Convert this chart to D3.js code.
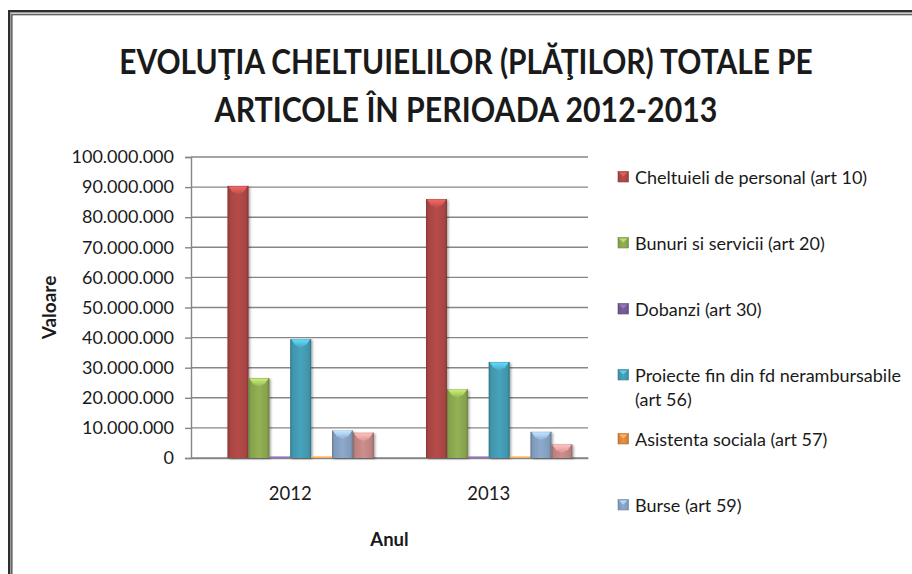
<!DOCTYPE html>
<html>
<head>
<meta charset="utf-8">
<script src="https://cdn.jsdelivr.net/npm/d3@7"></script>
<style>
  html, body { margin: 0; padding: 0; background: #fff; }
  svg { display: block; }
  text { font-family: Lato, "Open Sans", sans-serif; fill: #1a1a1a; }
</style>
</head>
<body>
<svg id="chart" width="912" height="574"></svg>
<script>
// ---------------- DATA ----------------
const titleLines = ["EVOLUŢIA CHELTUIELILOR (PLĂŢILOR) TOTALE PE", "ARTICOLE ÎN PERIOADA 2012-2013"];
const categories = ["2012", "2013"];
const seriesNames = [
  "(serie goală)",
  "Cheltuieli de personal (art 10)",
  "Bunuri si servicii (art 20)",
  "Dobanzi (art 30)",
  "Proiecte fin din fd nerambursabile (art 56)",
  "Asistenta sociala (art 57)",
  "Burse (art 59)",
  "Seria 8"
];
const values2012 = [null, 90400000, 26500000, 0, 39500000, 0, 9100000, 8400000];
const values2013 = [null, 86000000, 22800000, 0, 31900000, 0, 8700000, 4500000];
const seriesColors = ["#4F81BD", "#C0504D", "#9BBB59", "#8064A2", "#4BACC6", "#F79646", "#95B3D7", "#D99694"];
const legendSeries = [1, 2, 3, 4, 5, 6];
const legendLines = [
  ["Cheltuieli de personal (art 10)"],
  ["Bunuri si servicii (art 20)"],
  ["Dobanzi (art 30)"],
  ["Proiecte fin din fd nerambursabile", "(art 56)"],
  ["Asistenta sociala (art 57)"],
  ["Burse (art 59)"]
];
const yTicks = [0, 10000000, 20000000, 30000000, 40000000, 50000000, 60000000, 70000000, 80000000, 90000000, 100000000];
const yTitle = "Valoare";
const xTitle = "Anul";

// ---------------- LAYOUT ----------------
const svg = d3.select("#chart");
const plot = { left: 191, right: 588, top: 157, bottom: 458 };
const valuesByCat = [values2012, values2013];

const x0 = d3.scaleBand().domain(categories).range([plot.left, plot.right]).paddingInner(0).paddingOuter(0);
const x1 = d3.scaleBand().domain(d3.range(seriesNames.length)).range([0, x0.bandwidth()]).paddingInner(0).paddingOuter(0.75);
const y = d3.scaleLinear().domain([0, 100000000]).range([plot.bottom, plot.top]);

const loc = d3.formatLocale({ decimal: ",", thousands: ".", grouping: [3], currency: ["", ""] });
const fmt = loc.format(",d");

// defs
const defs = svg.append("defs");
function shade(c, k) { return d3.color(c).darker(k).formatHex(); }
function light(c, k) { return d3.color(c).brighter(k).formatHex(); }
seriesColors.forEach((c, i) => {
  const g = defs.append("linearGradient").attr("id", "g" + i).attr("x1", "0").attr("x2", "1").attr("y1", "0").attr("y2", "0");
  g.append("stop").attr("offset", "0").attr("stop-color", shade(c, 0.8));
  g.append("stop").attr("offset", "0.12").attr("stop-color", shade(c, 0.4));
  g.append("stop").attr("offset", "0.5").attr("stop-color", shade(c, 0.15));
  g.append("stop").attr("offset", "0.88").attr("stop-color", shade(c, 0.4));
  g.append("stop").attr("offset", "1").attr("stop-color", shade(c, 0.85));
  const gt = defs.append("linearGradient").attr("id", "t" + i).attr("x1", "0").attr("x2", "0").attr("y1", "0").attr("y2", "1");
  gt.append("stop").attr("offset", "0").attr("stop-color", light(c, 0.7));
  gt.append("stop").attr("offset", "1").attr("stop-color", light(c, 0.2));
});
const f = defs.append("filter").attr("id", "shadow").attr("x", "-30%").attr("y", "-10%").attr("width", "160%").attr("height", "130%");
f.append("feDropShadow").attr("dx", 1.5).attr("dy", 1).attr("stdDeviation", 1.3).attr("flood-color", "#000").attr("flood-opacity", 0.35);

// border (double frame)
svg.append("path").attr("d", "M9,574 V11 H912").attr("fill", "none").attr("stroke", "#2e2e2e").attr("stroke-width", 2);
svg.append("path").attr("d", "M10.7,574 V12.7 H912").attr("fill", "none").attr("stroke", "#9a9a9a").attr("stroke-width", 1.4);
svg.append("path").attr("d", "M11.9,574 V14.8 H912").attr("fill", "none").attr("stroke", "#2e2e2e").attr("stroke-width", 1.1);

// title: horizontally condensed to fit the reference widths
const titleY = [74, 122];
const titleLen = [694, 503];
titleLines.forEach((t, i) => {
  const g = svg.append("g");
  const tx = g.append("text").attr("x", 0).attr("y", 0).attr("text-anchor", "middle")
    .attr("font-size", 35).attr("font-weight", "bold").text(t);
  const w = tx.node().getComputedTextLength();
  const sx = titleLen[i] / w;
  g.attr("transform", `translate(466,${titleY[i]}) scale(${sx},1)`);
});

// gridlines
svg.append("g").selectAll("line").data(yTicks).join("line")
  .attr("x1", plot.left).attr("x2", plot.right)
  .attr("y1", d => y(d)).attr("y2", d => y(d))
  .attr("stroke", "#868686").attr("stroke-width", 1.4);

// y axis
const yAxis = d3.axisLeft(y).tickValues(yTicks).tickFormat(fmt).tickSize(6).tickPadding(11);
const gy = svg.append("g").attr("transform", `translate(${plot.left},0)`).call(yAxis);
gy.select(".domain").attr("stroke", "#868686").attr("stroke-width", 1.4);
gy.selectAll(".tick line").attr("stroke", "#868686").attr("stroke-width", 1.4);
gy.selectAll(".tick text").attr("font-size", 18).attr("fill", "#1a1a1a").attr("font-family", "Lato, sans-serif");

// x axis
const xAxis = d3.axisBottom(x0).tickSize(0).tickPadding(29);
const gx = svg.append("g").attr("transform", `translate(0,${plot.bottom})`).call(xAxis);
gx.select(".domain").attr("stroke", "#868686").attr("stroke-width", 1.4);
gx.selectAll(".tick text").attr("font-size", 18.5).attr("fill", "#1a1a1a").attr("font-family", "Lato, sans-serif");

// bars
const gBars = svg.append("g");
categories.forEach((cat, ci) => {
  valuesByCat[ci].forEach((v, si) => {
    if (v === null) return;
    const bx = x0(cat) + x1(si);
    const bw = x1.bandwidth();
    if (v === 0) {
      gBars.append("line").attr("x1", bx).attr("x2", bx + bw).attr("y1", y(0) - 0.8).attr("y2", y(0) - 0.8)
        .attr("stroke", light(seriesColors[si], 0.4)).attr("stroke-width", 1.6);
      return;
    }
    const by = y(v), bh = y(0) - y(v);
    const g = gBars.append("g");
    g.append("rect").attr("x", bx).attr("y", by).attr("width", bw).attr("height", bh)
      .attr("fill", `url(#g${si})`).attr("filter", "url(#shadow)");
    // top bevel
    g.append("path")
      .attr("d", `M${bx + 1},${by + 0.5} L${bx + bw - 1},${by + 0.5} L${bx + bw - 5},${by + 6} L${bx + 5},${by + 6} Z`)
      .attr("fill", `url(#t${si})`);
    g.append("path")
      .attr("d", `M${bx + 5},${by + 6} L${bx + bw - 5},${by + 6} L${bx + bw / 2},${by + 8} Z`)
      .attr("fill", light(seriesColors[si], 0.3)).attr("opacity", 0.7);
    // side edges
    g.append("rect").attr("x", bx).attr("y", by).attr("width", 1).attr("height", bh).attr("fill", shade(seriesColors[si], 1.1)).attr("opacity", 0.6);
    g.append("rect").attr("x", bx + bw - 1).attr("y", by).attr("width", 1).attr("height", bh).attr("fill", shade(seriesColors[si], 1.1)).attr("opacity", 0.6);
  });
});

// axis titles
svg.append("text").attr("transform", `translate(56,${(plot.top + plot.bottom) / 2}) rotate(-90)`)
  .attr("text-anchor", "middle").attr("font-size", 19).attr("font-weight", "bold").text(yTitle);
svg.append("text").attr("x", (plot.left + plot.right) / 2).attr("y", 546)
  .attr("text-anchor", "middle").attr("font-size", 18.5).attr("font-weight", "bold").text(xTitle);

// legend
const legendY = [184, 250, 316, 382, 446, 512];
const gl = svg.append("g");
legendSeries.forEach((si, k) => {
  const yy = legendY[k];
  const c = seriesColors[si];
  gl.append("rect").attr("x", 618).attr("y", yy - 12.5).attr("width", 10.5).attr("height", 10.5)
    .attr("fill", `url(#g${si})`).attr("stroke", shade(c, 0.8)).attr("stroke-width", 0.6);
  gl.append("path").attr("d", `M619,${yy - 11.5} L627.5,${yy - 11.5} L623.2,${yy - 7.5} Z`).attr("fill", light(c, 0.5));
  legendLines[k].forEach((line, li) => {
    gl.append("text").attr("x", 635).attr("y", yy + li * 24).attr("font-size", 18).text(line);
  });
});
</script>
</body>
</html>
